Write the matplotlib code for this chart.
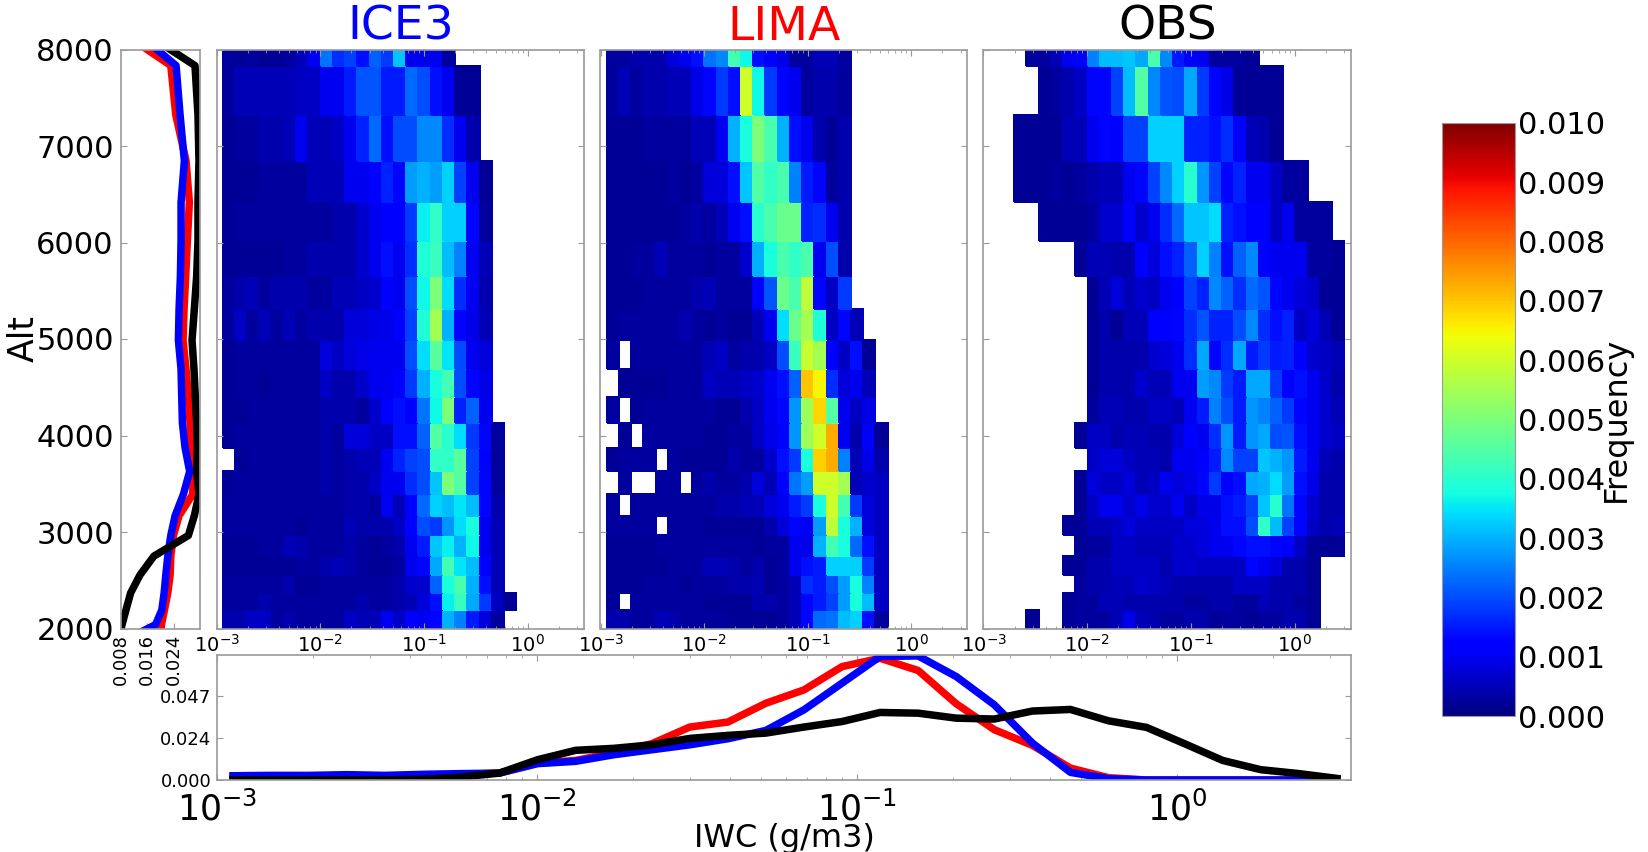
import numpy as np
import matplotlib
matplotlib.use("Agg")
import matplotlib.pyplot as plt
from matplotlib.ticker import LogLocator, LogFormatterMathtext

n = np.nan
NCOL = 29

# altitude bin edges (top row is cut by the axis limit)
alt_edges = [2000, 2193, 2369, 2554, 2750, 2964, 3169, 3390, 3628, 3874, 4133, 4400,
             4686, 4986, 5310, 5650, 6020, 6417, 6847, 7323, 7833, 8370]
iwc_edges = np.logspace(-2.94, 0.48, NCOL + 1)

# Frequency in 1e-4, rows listed from the top (8000 m) to the bottom (2000 m)
ice3_rows = [
    [3,2,3,2,2,3,5,10,24,17,19,14,22,18,32,10,10,10,3],
    [3,5,5,5,5,5,6,6,10,10,15,21,21,15,15,23,20,14,10,2,2],
    [2,3,3,4,4,5,10,5,5,6,10,16,23,14,20,20,26,26,17,10,4],
    [2,2,2,3,3,3,3,5,5,5,10,10,12,16,13,28,30,28,33,19,10,2],
    [2,3,3,3,3,3,3,3,3,4,4,7,10,12,12,18,36,41,33,33,13,3],
    [2,2,2,2,2,3,3,4,4,4,4,7,10,14,10,17,39,42,31,25,10,5],
    [3,4,5,3,4,4,4,3,3,5,5,6,7,12,10,20,37,50,34,17,10,4],
    [3,6,3,5,3,5,3,4,4,4,8,8,9,9,11,19,39,55,30,13,9,5],
    [2,3,3,3,3,3,3,3,8,6,8,9,10,10,10,20,34,46,35,20,10,8],
    [2,3,3,2,3,3,3,3,6,4,4,7,10,10,12,18,30,38,43,20,13,9],
    [2,2,3,3,3,3,3,3,4,4,4,3,7,12,14,12,24,37,50,16,22,10],
    [2,3,3,3,3,3,3,3,4,3,8,8,6,6,14,14,22,45,40,34,18,13,3],
    [n,2,3,3,3,3,3,3,4,3,4,5,5,10,16,19,20,41,41,46,19,12,3],
    [2,3,3,3,3,3,3,3,4,3,4,4,6,10,10,17,20,32,50,45,19,13,3],
    [3,3,3,3,3,3,3,3,3,3,4,4,3,10,5,12,23,33,31,35,31,13,4],
    [3,3,3,3,3,3,2,3,3,3,5,4,4,4,6,12,20,18,27,34,38,10,5],
    [2,2,2,3,3,5,4,3,3,3,4,3,2,3,4,10,15,32,36,30,37,10,5],
    [2,2,2,2,2,2,3,3,4,5,4,3,2,2,3,10,13,29,43,35,31,11,5],
    [3,3,3,3,3,4,2,2,3,3,3,3,3,3,4,7,7,22,38,44,30,14,5],
    [3,3,3,4,3,3,3,3,3,3,3,4,3,3,4,5,8,14,36,42,29,18,6,2],
    [4,4,6,6,3,4,3,3,3,3,6,5,5,10,6,11,10,13,30,25,15,8,3],
]
lima_rows = [
    [3,3,4,4,4,8,10,14,24,26,43,37,14,12,9,3,3,5,5,3],
    [3,5,3,4,4,5,5,9,13,18,14,60,37,18,13,10,3,4,4,3],
    [2,2,2,3,3,3,3,5,5,10,30,38,50,44,30,14,10,4,2,4],
    [2,2,2,2,2,3,2,3,8,8,14,32,45,41,44,25,15,13,3,4],
    [2,2,2,2,2,2,3,4,3,5,10,14,40,44,48,48,16,17,10,4],
    [2,2,3,3,5,3,3,3,2,3,3,7,30,38,44,41,44,10,20,4],
    [2,2,2,3,3,3,3,4,5,3,3,3,12,21,48,44,58,13,6,18],
    [2,3,3,3,3,3,4,3,2,3,2,2,5,10,34,48,55,39,6,13,5],
    [3,n,3,3,3,3,3,3,5,6,3,4,4,6,20,42,59,55,12,6,14,2],
    [n,2,2,2,2,3,3,3,6,5,5,6,7,10,14,22,70,65,17,8,10,5],
    [3,n,2,3,3,3,3,3,3,2,2,4,6,10,13,27,54,68,45,10,6,9],
    [n,2,n,3,3,3,3,3,2,2,3,3,6,9,11,27,54,60,73,10,4,11,2],
    [2,3,3,3,n,3,2,2,2,2,4,3,3,7,14,18,38,69,73,25,5,9,4],
    [n,3,n,n,3,3,n,3,4,3,3,4,8,5,12,24,28,60,60,55,5,7,6],
    [3,n,3,3,3,3,3,3,3,4,4,5,5,8,10,15,18,38,60,43,18,8,6],
    [3,3,3,3,n,3,3,3,2,2,2,2,2,4,8,13,10,28,58,38,30,8,6],
    [2,2,2,2,3,3,3,3,3,3,3,3,2,3,3,10,9,30,43,38,23,14,6],
    [2,2,2,2,2,3,3,3,5,5,4,3,4,2,3,10,14,15,33,33,33,18,6],
    [2,2,2,3,3,3,2,3,3,3,4,4,5,2,3,5,17,15,20,28,38,25,6],
    [2,n,3,3,3,3,3,3,2,2,2,2,4,4,3,5,13,15,19,28,38,31,6],
    [4,4,3,3,5,4,3,3,3,3,2,2,2,2,3,5,13,23,24,31,33,14,3],
]
obs_rows = [
    [n,n,n,3,3,5,10,11,25,31,31,32,29,44,26,15,11,10,3,3,3,2],
    [n,n,n,n,2,3,4,6,13,13,19,31,45,26,21,20,29,18,13,9,2,2,2,2],
    [n,n,2,2,2,2,5,5,10,13,11,19,19,33,33,33,16,16,14,17,12,5,4,2],
    [n,n,2,2,2,3,2,3,4,5,5,10,13,19,26,33,40,27,19,13,16,10,10,6,3,3],
    [n,n,n,n,2,2,2,2,3,7,7,12,7,10,17,23,32,32,34,16,14,12,12,6,10,3,3,3],
    [n,n,n,n,n,n,n,2,5,5,4,4,11,8,14,16,22,33,25,14,22,26,12,10,10,10,3,3,2],
    [n,n,n,n,n,n,n,n,2,5,8,5,7,6,10,12,19,16,26,22,17,23,21,13,10,8,7,2,2],
    [n,n,n,n,n,n,n,n,2,4,2,5,5,11,11,13,17,21,16,16,20,26,17,14,16,6,8,5,2],
    [n,n,n,n,n,n,n,n,2,4,4,4,4,7,8,10,17,29,13,17,29,15,18,15,16,11,7,6,5],
    [n,n,n,n,n,n,n,n,2,4,4,4,7,5,5,10,10,28,26,18,15,29,29,18,12,14,10,7,4],
    [n,n,n,n,n,n,n,n,3,5,5,4,4,6,6,5,10,15,25,20,15,27,25,22,18,13,10,7,5],
    [n,n,n,n,n,n,n,2,6,6,4,5,5,4,4,8,11,10,17,27,15,27,29,20,21,14,10,7,6],
    [n,n,n,n,n,n,n,n,6,8,8,6,5,5,4,10,10,12,15,26,19,19,32,30,27,15,10,5,4],
    [n,n,n,n,n,n,n,2,8,6,6,8,5,6,10,8,9,13,18,12,14,29,30,34,28,14,9,4,4],
    [n,n,n,n,n,n,n,2,6,10,10,7,9,7,7,10,6,9,9,14,15,19,32,40,24,13,7,4,4],
    [n,n,n,n,n,n,2,2,5,5,6,8,6,6,6,6,8,8,10,14,14,20,41,31,19,13,6,4,5],
    [n,n,n,n,n,n,n,2,3,3,6,6,5,5,5,7,7,8,10,10,13,14,14,13,11,6,2,2,2],
    [n,n,n,n,n,n,2,2,4,4,6,6,6,6,4,7,7,6,6,6,6,13,10,8,4,4,2],
    [n,n,n,n,n,n,n,3,4,4,5,5,7,6,5,4,4,4,4,4,6,6,6,4,4,4,2],
    [n,n,n,n,n,n,2,3,3,5,5,4,4,4,4,4,3,3,4,4,3,3,5,4,4,3,2],
    [n,n,n,2,n,n,2,3,3,3,5,9,5,4,3,3,4,4,2,3,3,2,3,3,4,4,2],
]

# Altitude profiles (left panel)
profile_alt = [1890, 2040, 2193, 2369, 2554, 2750, 2964, 3169, 3390, 3628, 3874, 4133,
               4400, 4686, 4986, 5310, 5650, 6020, 6417, 6847, 7323, 7833, 8370]
alt_red = [.0198,.0203,.0212,.0222,.0229,.0231,.0239,.0256,.0297,.0299,.0293,.0289,
           .0284,.0277,.0268,.0271,.0276,.0281,.0287,.0277,.0246,.0231,.0001]
alt_blue = [.0098,.0185,.0204,.0211,.0216,.0222,.0231,.0244,.0269,.0288,.0274,.0266,
            .0264,.0262,.0254,.0256,.0260,.0262,.0262,.0272,.0259,.0247,.0061]
alt_black = [.0073,.0084,.0096,.0110,.0138,.0180,.0284,.0302,.0316,.0309,.0311,.0309,
             .0305,.0301,.0295,.0302,.0309,.0313,.0313,.0316,.0313,.0304,.0064]

# IWC distributions (bottom panel)
iwc_points = np.logspace(-2.95, 0.5, 30)
iwc_red = [.0011,.0011,.0011,.0015,.0015,.0021,.0030,.0039,.0095,.0110,.0152,.0204,.0298,.0326,
           .0432,.0507,.0638,.0685,.0616,.0429,.0283,.0195,.0067,.0013,0,0,0,0,0,0]
iwc_blue = [.0024,.0026,.0026,.0030,.0026,.0032,.0036,.0039,.0092,.0105,.0142,.0170,.0198,.0232,
            .0279,.0395,.0545,.0695,.0698,.0582,.0423,.0208,.0043,.0007,0,0,0,0,0,0]
iwc_black = [.0001,.0001,.0001,.0001,.0001,.0004,.0017,.0039,.0114,.0167,.0178,.0198,.0234,.0251,
             .0264,.0298,.0329,.0380,.0376,.0348,.0343,.0388,.0397,.0333,.0296,.0204,.0110,.0058,.0036,.0009]

panel_titles = ["ICE3", "LIMA", "OBS"]
title_colors = ["#0000ff", "#ff0000", "#000000"]
alt_ticks = [2000, 3000, 4000, 5000, 6000, 7000, 8000]
cbar_ticks = [0.000, 0.001, 0.002, 0.003, 0.004, 0.005, 0.006, 0.007, 0.008, 0.009, 0.010]

W, H = 1649, 852
GREY = "#9a9a9a"
LW = 5.4

def box(x0, y0, x1, y1):
    return [x0 / W, 1 - y1 / H, (x1 - x0) / W, (y1 - y0) / H]

def to_grid(rows):
    g = np.full((len(rows), NCOL), np.nan)
    for i, r in enumerate(rows):
        g[i, :len(r)] = r
    return np.ma.masked_invalid(g[::-1] * 1e-4)

def style(ax):
    for s in ax.spines.values():
        s.set_color(GREY)
        s.set_linewidth(1.2)

fig = plt.figure(figsize=(W / 100, H / 100), dpi=100)

panels = [(216.6, 584), (600.5, 967.5), (983.5, 1351)]
mesh = None
for (x0, x1), rows, t, c in zip(panels, [ice3_rows, lima_rows, obs_rows], panel_titles, title_colors):
    ax = fig.add_axes(box(x0, 49.5, x1, 628.5))
    mesh = ax.pcolormesh(iwc_edges, alt_edges, to_grid(rows), cmap="jet", vmin=0, vmax=0.01,
                         shading="flat", edgecolors="face", linewidth=0.2)
    ax.set_xscale("log")
    ax.set_xlim(1e-3, 3.5)
    ax.set_ylim(2000, 8000)
    ax.set_yticks(alt_ticks)
    ax.set_yticklabels([])
    ax.xaxis.set_major_locator(LogLocator(base=10, numticks=6))
    ax.xaxis.set_major_formatter(LogFormatterMathtext())
    ax.tick_params(axis="x", which="major", labelsize=14, direction="in", length=4, color=GREY, pad=4)
    ax.tick_params(axis="x", which="minor", direction="in", length=2, color=GREY)
    ax.tick_params(axis="y", direction="in", length=4, color=GREY)
    ax.tick_params(top=True, right=True, which="both")
    ax.set_title(t, color=c, fontsize=34, pad=-10)
    style(ax)

# left altitude profile
ax = fig.add_axes(box(120.7, 49.5, 200.3, 628.5))
ax.plot(alt_red, profile_alt, color="#ff0000", lw=LW)
ax.plot(alt_blue, profile_alt, color="#0000ff", lw=LW)
ax.plot(alt_black, profile_alt, color="#000000", lw=LW)
ax.set_xlim(0.008, 0.032)
ax.set_ylim(2000, 8000)
ax.set_xticks([0.008, 0.016, 0.024])
ax.set_xticklabels(["0.008", "0.016", "0.024"], rotation=90, fontsize=13)
ax.set_yticks(alt_ticks)
ax.tick_params(axis="y", labelsize=22, direction="in", length=4, color=GREY, pad=5)
ax.tick_params(axis="x", direction="in", length=4, color=GREY, pad=4)
ax.set_ylabel("Alt", fontsize=25)
ax.yaxis.set_label_coords(-1.0, 0.5)
style(ax)

# bottom IWC distribution
ax = fig.add_axes(box(217, 654.7, 1351, 780))
ax.plot(iwc_points, iwc_red, color="#ff0000", lw=LW)
ax.plot(iwc_points, iwc_blue, color="#0000ff", lw=LW)
ax.plot(iwc_points, iwc_black, color="#000000", lw=LW)
ax.set_xscale("log")
ax.set_xlim(1e-3, 3.5)
ax.set_ylim(0, 0.0705)
ax.set_yticks([0, 0.0235, 0.047])
ax.set_yticklabels(["0.000", "0.024", "0.047"], fontsize=13)
ax.xaxis.set_major_locator(LogLocator(base=10, numticks=6))
ax.xaxis.set_major_formatter(LogFormatterMathtext())
ax.tick_params(axis="x", which="major", labelsize=25, direction="in", length=4, color=GREY, pad=8)
ax.tick_params(axis="x", which="minor", direction="in", length=2, color=GREY)
ax.tick_params(axis="y", direction="in", length=4, color=GREY, pad=4)
ax.tick_params(top=True, right=True, which="both")
ax.set_xlabel("IWC (g/m3)", fontsize=23)
ax.xaxis.set_label_coords(0.5, -0.345)
style(ax)

# colorbar
cax = fig.add_axes(box(1442, 123, 1515.5, 716))
cb = fig.colorbar(mesh, cax=cax, ticks=cbar_ticks, format="%.3f")
cb.ax.tick_params(labelsize=22, length=0, pad=2)
cb.outline.set_edgecolor(GREY)
cb.set_label("Frequency", fontsize=23, labelpad=-3)

fig.savefig("out.png", dpi=100)
